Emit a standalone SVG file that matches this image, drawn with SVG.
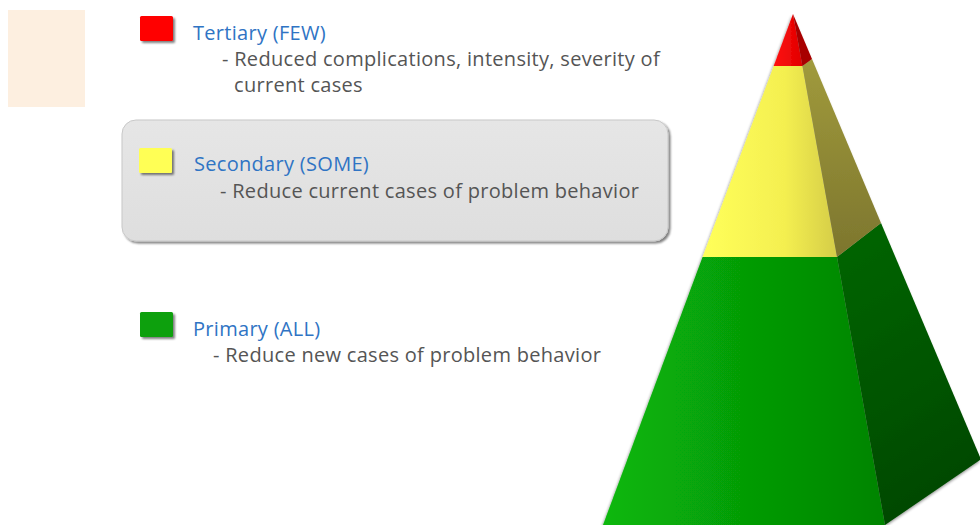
<svg xmlns="http://www.w3.org/2000/svg" width="980" height="525" viewBox="0 0 980 525">
<style>
.h{font-family:"Open Sans","Noto Sans","Liberation Sans",sans-serif;font-size:20px;letter-spacing:0.3px;fill:#2f74c4}
.d{font-family:"Open Sans","Noto Sans","Liberation Sans",sans-serif;font-size:20px;letter-spacing:0.3px;fill:#555}
</style>
<defs>
<filter id="sh" x="-20%" y="-20%" width="150%" height="150%">
<feGaussianBlur in="SourceAlpha" stdDeviation="1.2"/>
<feOffset dx="1.5" dy="2" result="o"/>
<feComponentTransfer><feFuncA type="linear" slope="0.5"/></feComponentTransfer>
<feMerge><feMergeNode/><feMergeNode in="SourceGraphic"/></feMerge>
</filter>
<filter id="psh" x="-10%" y="-10%" width="130%" height="130%">
<feGaussianBlur in="SourceAlpha" stdDeviation="1.5"/>
<feOffset dx="-1" dy="2" result="o"/>
<feComponentTransfer><feFuncA type="linear" slope="0.45"/></feComponentTransfer>
<feMerge><feMergeNode/><feMergeNode in="SourceGraphic"/></feMerge>
</filter>
<linearGradient id="gf" x1="603" y1="0" x2="885" y2="0" gradientUnits="userSpaceOnUse">
<stop offset="0" stop-color="#08b80a"/><stop offset="0.5" stop-color="#069c06"/><stop offset="1" stop-color="#048404"/>
</linearGradient>
<linearGradient id="gr" x1="840" y1="250" x2="980" y2="480" gradientUnits="userSpaceOnUse">
<stop offset="0" stop-color="#006400"/><stop offset="1" stop-color="#004800"/>
</linearGradient>
<linearGradient id="yf" x1="705" y1="0" x2="838" y2="0" gradientUnits="userSpaceOnUse">
<stop offset="0" stop-color="#ffff5a"/><stop offset="0.6" stop-color="#f4ef50"/><stop offset="1" stop-color="#d4cc48"/>
</linearGradient>
<linearGradient id="yr" x1="0" y1="60" x2="0" y2="250" gradientUnits="userSpaceOnUse">
<stop offset="0" stop-color="#a09a3c"/><stop offset="1" stop-color="#7e772e"/>
</linearGradient>
<linearGradient id="rf" x1="774" y1="0" x2="803" y2="0" gradientUnits="userSpaceOnUse">
<stop offset="0" stop-color="#ff1010"/><stop offset="1" stop-color="#e00000"/>
</linearGradient>
<linearGradient id="box" x1="0" y1="120" x2="0" y2="241" gradientUnits="userSpaceOnUse">
<stop offset="0" stop-color="#e6e6e6"/><stop offset="1" stop-color="#dedede"/>
</linearGradient>
</defs>
<rect width="980" height="525" fill="#ffffff"/>
<rect id="peach" x="8" y="10" width="77" height="97" fill="#fdefe0"/>

<g id="secondary-box">
<rect x="122" y="120" width="546" height="121" rx="14" fill="url(#box)" stroke="#c8c8c8" stroke-width="1" filter="url(#sh)"/>
</g>

<g id="tertiary">
<rect x="140" y="16" width="33" height="25" rx="1.5" fill="#ff0000" filter="url(#sh)"/>
<text class="h" x="193" y="40">Tertiary (FEW)</text>
<text class="d" x="222" y="66">- Reduced complications, intensity, severity of</text>
<text class="d" x="234" y="92">current cases</text>
</g>
<g id="secondary">
<rect x="139" y="148" width="33" height="25" rx="1.5" fill="#ffff55" filter="url(#sh)"/>
<text class="h" x="194" y="171">Secondary (SOME)</text>
<text class="d" x="220" y="198">- Reduce current cases of problem behavior</text>
</g>
<g id="primary">
<rect x="140" y="312" width="33" height="25" rx="1.5" fill="#08a008" filter="url(#sh)"/>
<text class="h" x="193" y="336">Primary (ALL)</text>
<text class="d" x="213" y="362">- Reduce new cases of problem behavior</text>
</g>

<g id="pyramid" filter="url(#psh)">
<polygon points="702.6,257 837,257 885,525 603,525" fill="url(#gf)"/>
<polygon points="837,257 881,223 980,457 980,460 885,525" fill="url(#gr)"/>
<polygon points="773.7,66 802.4,66 837,257 702.6,257" fill="url(#yf)"/>
<polygon points="802.4,66 812,59 881,223 837,257" fill="url(#yr)"/>
<polygon points="793,14 802.4,66 773.7,66" fill="url(#rf)"/>
<polygon points="793,14 812,59 802.4,66" fill="#a80000"/>
</g>
<g id="connectors"/>
</svg>
